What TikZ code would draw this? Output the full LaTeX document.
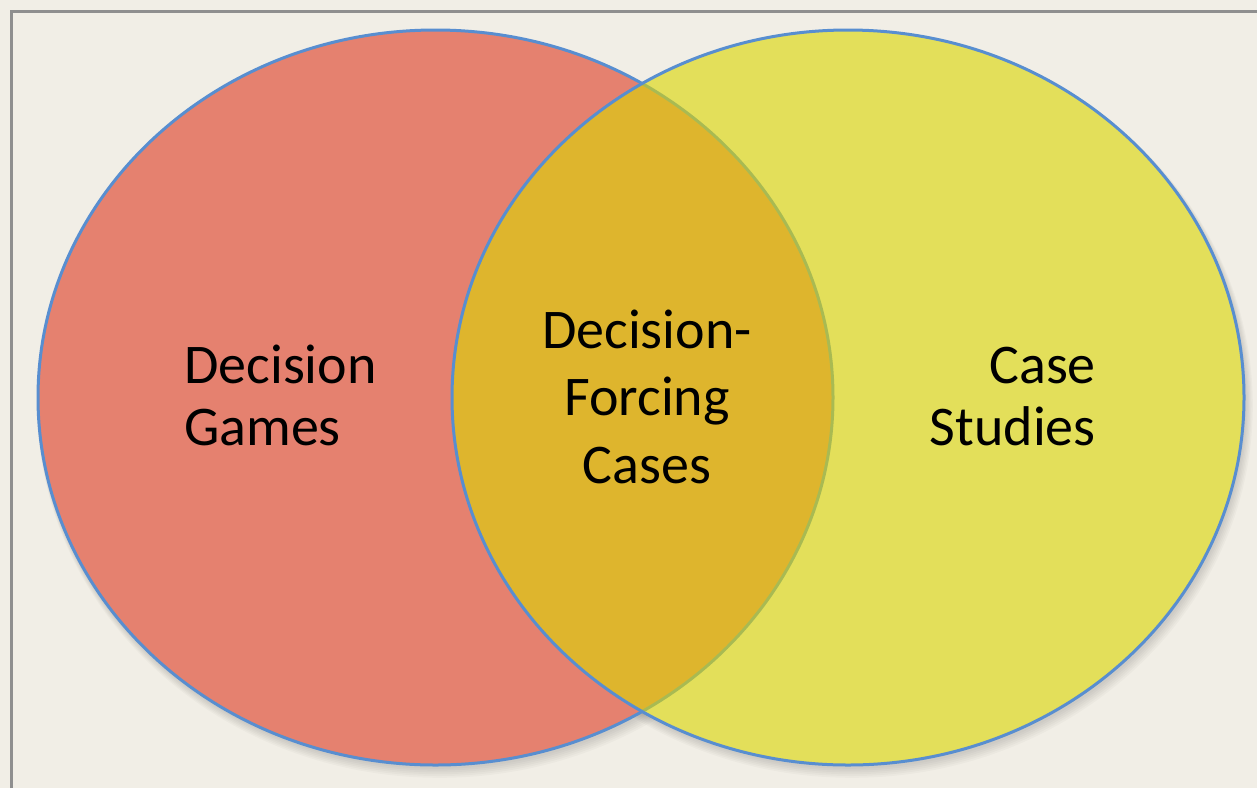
\documentclass[tikz,border=0pt]{standalone}
\usepackage{fontspec}
\setmainfont{Carlito}
\definecolor{bgc}{RGB}{241,238,230}
\definecolor{framec}{RGB}{143,143,143}
\definecolor{edgec}{RGB}{88,142,208}
\definecolor{redc}{RGB}{229,129,111}
\definecolor{yelc}{RGB}{219,214,5}
\tikzset{
  setedge/.style={draw=edgec, line width=3pt},
  lbl/.style={font=\fontsize{56}{66}\selectfont, inner sep=0pt, text=black},
  shadowc/.style={fill=black, draw=none}
}
\begin{document}
\begin{tikzpicture}[x=1pt,y=-1pt]
\useasboundingbox (0,0) rectangle (1257,788);
\fill[bgc] (0,0) rectangle (1257,788);
\draw[framec, line width=3pt] (11.5,788) -- (11.5,11.5) -- (1257,11.5);
% soft shadows
\foreach \k in {1,...,6}{
  \fill[black, opacity=0.025] (435.5+1+0.5*\k,397.5+2+\k) ellipse ({397.5+\k*0.8} and {367.5+\k*0.8});
  \fill[black, opacity=0.025] (848+1+0.5*\k,397.5+2+\k) ellipse ({396+\k*0.8} and {367.5+\k*0.8});
}
\fill[bgc] (435.5,397.5) ellipse (397.5 and 367.5);
\fill[bgc] (848,397.5) ellipse (396 and 367.5);
% sets
\path[setedge, fill=redc] (435.5,397.5) ellipse (397.5 and 367.5) coordinate (leftset);
\path[draw=edgec, line width=3pt, fill=yelc, fill opacity=0.62] (848,397.5) ellipse (396 and 367.5) coordinate (rightset);
% labels
\node[lbl, anchor=base west] (dg1) at (184,383) {Decision};
\node[lbl, anchor=base west] (dg2) at (184,445) {Games};
\node[lbl, anchor=base] (dfc1) at (647,348) {Decision-};
\node[lbl, anchor=base] (dfc2) at (647,415) {Forcing};
\node[lbl, anchor=base] (dfc3) at (647,483) {Cases};
\node[lbl, anchor=base east] (cs1) at (1096,383) {Case};
\node[lbl, anchor=base east] (cs2) at (1096,445) {Studies};
\end{tikzpicture}
\end{document}
